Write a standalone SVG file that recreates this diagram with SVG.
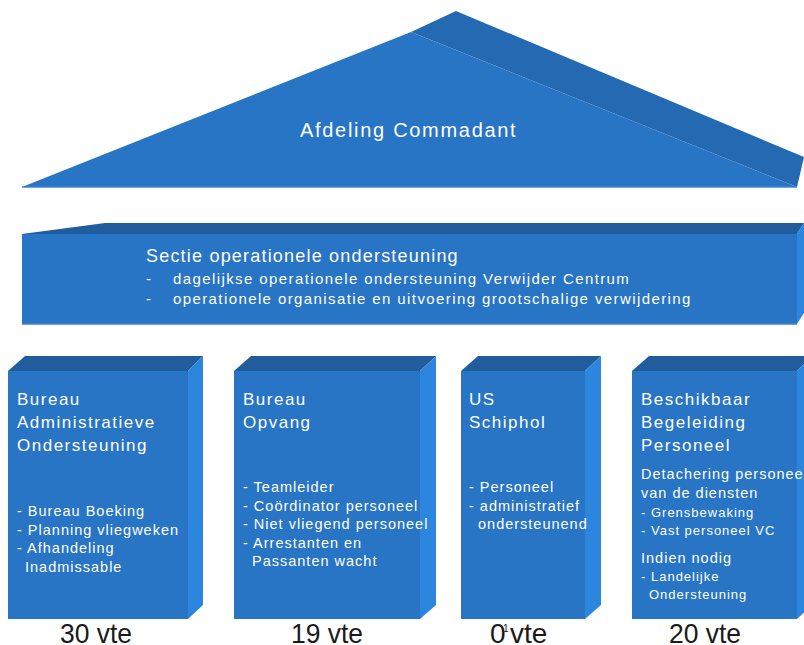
<svg xmlns="http://www.w3.org/2000/svg" width="804" height="645" viewBox="0 0 804 645">
<style>
.front{fill:#2874C5}
.topf{fill:#215D9C}
.side{fill:#2C86DD}
.back{fill:#246AB3}
text{font-family:"Liberation Sans",Arial,sans-serif;fill:#ffffff}
.t1{font-size:20px;letter-spacing:1.7px}
.t2{font-size:18px;letter-spacing:1.2px}
.t3{font-size:15px;letter-spacing:1.4px}
.bt{font-size:17px;letter-spacing:1.5px}
.bi{font-size:14.5px;letter-spacing:1px}
.bs{font-size:13px;letter-spacing:1px}
.vte{font-size:28px;fill:#1a1a1a}
</style>
<rect width="804" height="645" fill="#ffffff"/>
<g id="afdeling-commandant">
  <polygon class="back" points="411,32 456,11 804,157 797,187"/>
  <polygon class="front" points="22,187 411,32 797,187"/>
  <line x1="22" y1="187" x2="797" y2="187" stroke="#3A86D0" stroke-width="1.5"/>
  <text class="t1" x="300" y="137">Afdeling Commadant</text>
</g>
<g id="sectie">
  <polygon class="topf" points="22,234 105,223 804,223 797,234"/>
  <rect class="front" x="22" y="234" width="775" height="90"/>
  <polygon class="side" points="797,234 804,223 804,313 797,324"/>
  <line x1="22" y1="324" x2="797" y2="324" stroke="#3A86D0" stroke-width="1.5"/>
  <text class="t2" x="146" y="262">Sectie operationele ondersteuning</text>
  <text class="t3" x="146" y="284">-</text>
  <text class="t3" x="173" y="284">dagelijkse operationele ondersteuning Verwijder Centrum</text>
  <text class="t3" x="146" y="304">-</text>
  <text class="t3" x="173" y="304">operationele organisatie en uitvoering grootschalige verwijdering</text>
</g>
<g id="bureau-administratieve-ondersteuning">
  <polygon class="topf" points="8,371 25,356 203,356 188,371"/>
  <rect class="front" x="8" y="371" width="180" height="248"/>
  <polygon class="side" points="188,371 203,356 203,605 188,619"/>
  <text class="bt" x="17" y="405">Bureau</text>
  <text class="bt" x="17" y="428">Administratieve</text>
  <text class="bt" x="17" y="451">Ondersteuning</text>
  <text class="bi" x="17" y="516">- Bureau Boeking</text>
  <text class="bi" x="17" y="535">- Planning vliegweken</text>
  <text class="bi" x="17" y="553">- Afhandeling</text>
  <text class="bi" x="25" y="572">Inadmissable</text>
  <text class="vte" x="60" y="643" textLength="72" lengthAdjust="spacingAndGlyphs">30 vte</text>
</g>
<g id="bureau-opvang">
  <polygon class="topf" points="234,371 251,356 436,356 420,371"/>
  <rect class="front" x="234" y="371" width="186" height="248"/>
  <polygon class="side" points="420,371 436,356 436,605 420,619"/>
  <text class="bt" x="243" y="405">Bureau</text>
  <text class="bt" x="243" y="428">Opvang</text>
  <text class="bi" x="243" y="492">- Teamleider</text>
  <text class="bi" x="243" y="511">- Coördinator personeel</text>
  <text class="bi" x="243" y="529">- Niet vliegend personeel</text>
  <text class="bi" x="243" y="548">- Arrestanten en</text>
  <text class="bi" x="252" y="566">Passanten wacht</text>
  <text class="vte" x="291" y="643" textLength="72" lengthAdjust="spacingAndGlyphs">19 vte</text>
</g>
<g id="us-schiphol">
  <polygon class="topf" points="461,371 478,356 601,356 585,371"/>
  <rect class="front" x="461" y="371" width="124" height="248"/>
  <polygon class="side" points="585,371 601,356 601,605 585,619"/>
  <text class="bt" x="469" y="405">US</text>
  <text class="bt" x="469" y="428">Schiphol</text>
  <text class="bi" x="469" y="492">- Personeel</text>
  <text class="bi" x="469" y="511">- administratief</text>
  <text class="bi" x="478" y="529">ondersteunend</text>
  <text class="vte" x="490" y="643">0<tspan x="503" dy="-11" style="font-size:10px">1</tspan><tspan x="510" dy="11">vte</tspan></text>
</g>
<g id="beschikbaar-begeleiding-personeel">
  <polygon class="topf" points="632,371 649,356 812,356 797,371"/>
  <rect class="front" x="632" y="371" width="165" height="248"/>
  <polygon class="side" points="797,371 812,356 812,605 797,619"/>
  <text class="bt" x="641" y="405">Beschikbaar</text>
  <text class="bt" x="641" y="428">Begeleiding</text>
  <text class="bt" x="641" y="451">Personeel</text>
  <text class="bi" x="641" y="479">Detachering personeel</text>
  <text class="bi" x="641" y="498">van de diensten</text>
  <text class="bs" x="641" y="517">- Grensbewaking</text>
  <text class="bs" x="641" y="535">- Vast personeel VC</text>
  <text class="bi" x="641" y="563">Indien nodig</text>
  <text class="bs" x="641" y="581">- Landelijke</text>
  <text class="bs" x="649" y="599">Ondersteuning</text>
  <text class="vte" x="669" y="643" textLength="72" lengthAdjust="spacingAndGlyphs">20 vte</text>
</g>
<g id="connectors"/>
</svg>
